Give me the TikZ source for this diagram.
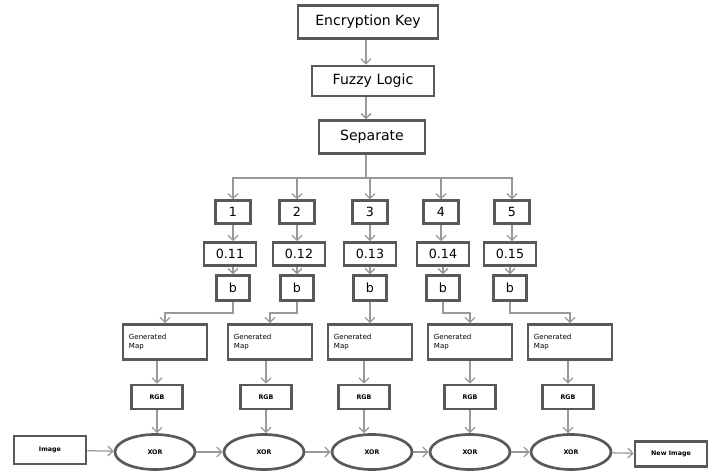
\documentclass[tikz,border=0pt]{standalone}
\usepackage{fontspec}
\setmainfont{DejaVu Sans}
\usetikzlibrary{arrows.meta,shapes.geometric}
\tikzset{
  box/.style={draw=black!65, line width=1.9pt, fill=white, inner sep=1pt},
  oval/.style={ellipse, draw=black!65, line width=1.9pt, fill=white, inner sep=1pt,
    minimum width=2cm, minimum height=0.875cm, font=\fontsize{4.5}{5}\selectfont\bfseries},
  link/.style={draw=black!40, line width=0.9pt},
  arr/.style={link, -{Straight Barb[length=3.5pt,width=7pt]}},
  small/.style={box, font=\fontsize{4.5}{5}\selectfont\bfseries},
}
\begin{document}
\begin{tikzpicture}[x=0.025cm, y=-0.025cm]
        \useasboundingbox (0,0) rectangle (709,472);

        % 绘制上部三个框
        \node[box, minimum width=3.5cm, minimum height=0.82cm, font=\fontsize{10}{12}\selectfont] (key) at (368,22) {Encryption Key};
        \node[box, minimum width=3.05cm, minimum height=0.75cm, font=\fontsize{10}{12}\selectfont] (fuzzy) at (373,81) {Fuzzy Logic};
        \node[box, minimum width=2.65cm, minimum height=0.82cm, font=\fontsize{10}{12}\selectfont] (sep) at (372,137) {Separate};
        \coordinate (bus) at (366,178);
        \draw[arr] (key.south -| bus) -- (fuzzy.north -| bus);
        \draw[arr] (fuzzy.south -| bus) -- (sep.north -| bus);

        % 分支
        \draw[link] (sep.south -| bus) -- (bus);

        % 编号, 数值, b
        \foreach \i/\x/\v/\vx/\bx in {1/233/0.11/230/233, 2/297/0.12/299/297, 3/370/0.13/370/370, 4/441/0.14/443/443, 5/512/0.15/510/510} {
          \node[box, minimum width=0.88cm, minimum height=0.56cm, font=\fontsize{9}{10}\selectfont] (n\i) at (\x,212) {\i};
          \node[box, minimum width=1.3cm, minimum height=0.58cm, font=\fontsize{9}{10}\selectfont] (v\i) at (\vx,254) {\v};
          \node[box, minimum width=0.82cm, minimum height=0.62cm, font=\fontsize{9}{10}\selectfont] (b\i) at (\bx,288) {b};
          \draw[arr] (bus) -| (n\i);
          \draw[arr] (n\i) -- (v\i.north -| n\i);
          \draw[arr] (v\i.south -| b\i) -- (b\i);
        }

        % Generated Map, RGB, XOR
        \foreach \i/\gx/\rx/\ox in {1/165/157/155, 2/270/266/264, 3/370/364/372, 4/470/470/470, 5/570/568/571} {
          \node[box, minimum width=2.1cm, minimum height=0.88cm, text width=1.8cm, align=left,
            font=\fontsize{5}{7}\selectfont] (g\i) at (\gx,342) {Generated\\Map};
          \node[small, minimum width=1.28cm, minimum height=0.6cm] (r\i) at (\rx,397) {RGB};
          \node[oval] (x\i) at (\ox,452) {XOR};
          \draw[arr] (b\i) -- ++(0,25) -| (g\i);
          \draw[arr] (g\i.south -| r\i) -- (r\i);
          \draw[arr] (r\i) -- (x\i.north -| r\i);
        }

        % 输入与输出
        \node[small, minimum width=1.8cm, minimum height=0.7cm] (img) at (50,450) {Image};
        \node[small, minimum width=1.8cm, minimum height=0.62cm] (newimg) at (671,454) {New Image};
        \draw[arr] (img) -- (x1);
        \foreach \i/\j in {1/2, 2/3, 3/4, 4/5} {
          \draw[arr] (x\i) -- (x\j);
        }
        \draw[arr] (x5) -- (newimg);
    \end{tikzpicture}
\end{document}
